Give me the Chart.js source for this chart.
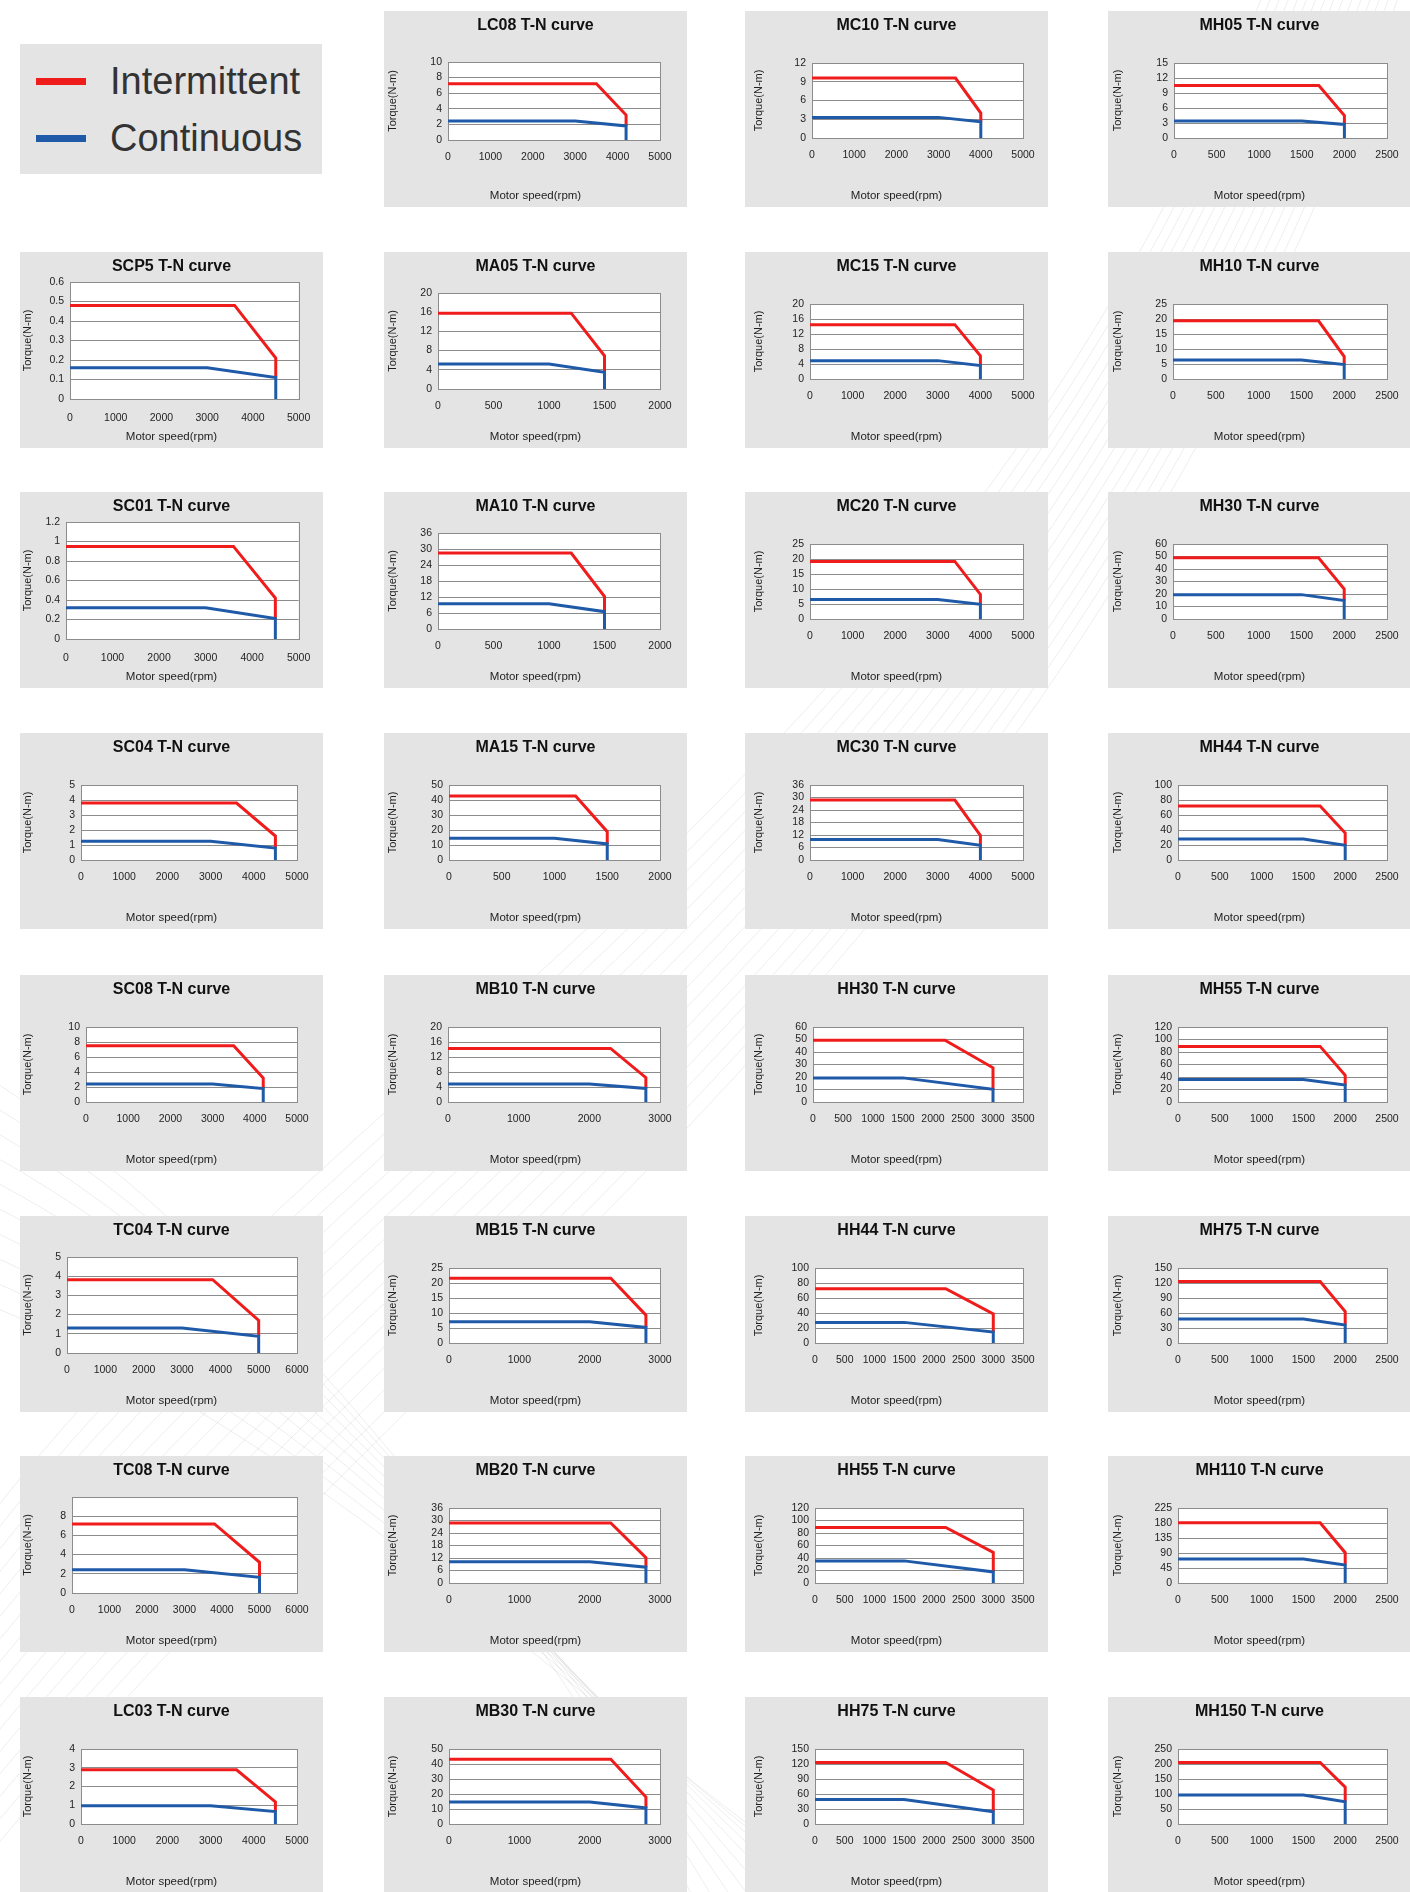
<!DOCTYPE html>
<html>
<head>
<meta charset="utf-8">
<title>Servo motor T-N curves</title>
<script src="https://cdn.jsdelivr.net/npm/chart.js@4.4.1/dist/chart.umd.min.js"></script>
<style>
  html, body { margin: 0; padding: 0; background: #ffffff; width: 1410px; height: 1892px; overflow: hidden;
    font-family: "Liberation Sans", Arial, sans-serif; }
  #swoosh { position: absolute; left: 0; top: 0; }
  .panel { position: absolute; width: 303px; height: 196px; background: #e4e4e4; }
  .panel canvas { display: block; }
  #legend { position: absolute; left: 20px; top: 44px; width: 302px; height: 130px; background: #e4e4e4; }
  #legend .row { position: absolute; left: 0; height: 40px; width: 302px; }
  #legend .swatch { position: absolute; left: 16px; width: 50px; height: 7px; top: 17px; }
  #legend .label { position: absolute; left: 90px; top: 0; line-height: 40px; font-size: 38px; color: #333333; white-space: nowrap; }
</style>
</head>
<body>
<svg id="swoosh" width="1410" height="1892"></svg>
<div id="legend">
  <div class="row" style="top:17px"><div class="swatch" style="background:#f01c1c"></div><div class="label">Intermittent</div></div>
  <div class="row" style="top:74px"><div class="swatch" style="background:#1f5aa8"></div><div class="label">Continuous</div></div>
</div>
<div id="grid"></div>
<script>
// ---- Motor models, in reading order (left to right, top to bottom) ----
const models = ['LC08','MC10','MH05',
  'SCP5','MA05','MC15','MH10',
  'SC01','MA10','MC20','MH30',
  'SC04','MA15','MC30','MH44',
  'SC08','MB10','HH30','MH55',
  'TC04','MB15','HH44','MH75',
  'TC08','MB20','HH55','MH110',
  'LC03','MB30','HH75','MH150'];

// Speed axis (rpm): upper limit and tick step
const speedMax  = [5000,5000,2500, 5000,2000,5000,2500, 5000,2000,5000,2500, 5000,2000,5000,2500,
                   5000,3000,3500,2500, 6000,3000,3500,2500, 6000,3000,3500,2500, 5000,3000,3500,2500];
const speedStep = [1000,1000,500, 1000,500,1000,500, 1000,500,1000,500, 1000,500,1000,500,
                   1000,1000,500,500, 1000,1000,500,500, 1000,1000,500,500, 1000,1000,500,500];

// Torque axis (N-m): upper limit and tick step
const torqueMax  = [10,12,15, 0.6,20,20,25, 1.2,36,25,60, 5,50,36,100, 10,20,60,120,
                    5,25,100,150, 10,36,120,225, 4,50,150,250];
const torqueStep = [2,3,3, 0.1,4,4,5, 0.2,6,5,10, 1,10,6,20, 2,4,10,20,
                    1,5,20,30, 2,6,20,45, 1,10,30,50];
// Models whose top torque tick carries no label
const unlabeledTopTick = ['TC08'];

// Intermittent (peak) torque curve, [rpm, N-m]
const intermittent = [
  [[0,7.2],[3500,7.2],[4200,3.2],[4200,1.8]],
  [[0,9.6],[3400,9.6],[4000,4.0],[4000,2.6]],
  [[0,10.5],[1700,10.5],[2000,4.5],[2000,2.7]],
  [[0,0.48],[3600,0.48],[4500,0.21],[4500,0.11]],
  [[0,15.8],[1200,15.8],[1500,6.9],[1500,3.5]],
  [[0,14.5],[3400,14.5],[4000,6.2],[4000,3.6]],
  [[0,19.4],[1700,19.4],[2000,7.5],[2000,4.8]],
  [[0,0.95],[3600,0.95],[4500,0.42],[4500,0.21]],
  [[0,28.5],[1200,28.5],[1500,12.2],[1500,6.5]],
  [[0,19.2],[3400,19.2],[4000,8.2],[4000,4.9]],
  [[0,49],[1700,49],[2000,24],[2000,14.7]],
  [[0,3.8],[3600,3.8],[4500,1.6],[4500,0.8]],
  [[0,42.6],[1200,42.6],[1500,18.9],[1500,10.7]],
  [[0,28.8],[3400,28.8],[4000,11.8],[4000,7.1]],
  [[0,72],[1700,72],[2000,36],[2000,19.7]],
  [[0,7.5],[3500,7.5],[4200,3.2],[4200,1.8]],
  [[0,14.3],[2300,14.3],[2800,6.5],[2800,3.6]],
  [[0,49.5],[2200,49.5],[3000,27.4],[3000,10.2]],
  [[0,89],[1700,89],[2000,42.6],[2000,27]],
  [[0,3.82],[3800,3.82],[5000,1.7],[5000,0.87]],
  [[0,21.6],[2300,21.6],[2800,9.3],[2800,5.2]],
  [[0,72.5],[2200,72.5],[3000,38.7],[3000,14.5]],
  [[0,123],[1700,123],[2000,63],[2000,36]],
  [[0,7.2],[3800,7.2],[5000,3.2],[5000,1.63]],
  [[0,28.8],[2300,28.8],[2800,12.2],[2800,7.6]],
  [[0,89],[2200,89],[3000,49],[3000,17.7]],
  [[0,181],[1700,181],[2000,91],[2000,54]],
  [[0,2.89],[3600,2.89],[4500,1.18],[4500,0.66]],
  [[0,43.2],[2300,43.2],[2800,18],[2800,10.7]],
  [[0,123],[2200,123],[3000,68],[3000,24.3]],
  [[0,205],[1700,205],[2000,123],[2000,74]]
];

// Continuous (rated) torque curve, [rpm, N-m]
const continuous = [
  [[0,2.45],[3000,2.45],[4200,1.8],[4200,0]],
  [[0,3.3],[3000,3.3],[4000,2.6],[4000,0]],
  [[0,3.4],[1500,3.4],[2000,2.7],[2000,0]],
  [[0,0.16],[3000,0.16],[4500,0.11],[4500,0]],
  [[0,5.2],[1000,5.2],[1500,3.5],[1500,0]],
  [[0,4.9],[3000,4.9],[4000,3.6],[4000,0]],
  [[0,6.3],[1500,6.3],[2000,4.8],[2000,0]],
  [[0,0.32],[3000,0.32],[4500,0.21],[4500,0]],
  [[0,9.5],[1000,9.5],[1500,6.5],[1500,0]],
  [[0,6.5],[3000,6.5],[4000,4.9],[4000,0]],
  [[0,19.5],[1500,19.5],[2000,14.7],[2000,0]],
  [[0,1.25],[3000,1.25],[4500,0.8],[4500,0]],
  [[0,14.5],[1000,14.5],[1500,10.7],[1500,0]],
  [[0,9.8],[3000,9.8],[4000,7.1],[4000,0]],
  [[0,28],[1500,28],[2000,19.7],[2000,0]],
  [[0,2.4],[3000,2.4],[4200,1.8],[4200,0]],
  [[0,4.8],[2000,4.8],[2800,3.6],[2800,0]],
  [[0,19.3],[1500,19.3],[3000,10.2],[3000,0]],
  [[0,36],[1500,36],[2000,27],[2000,0]],
  [[0,1.3],[3000,1.3],[5000,0.87],[5000,0]],
  [[0,7.1],[2000,7.1],[2800,5.2],[2800,0]],
  [[0,27.5],[1500,27.5],[3000,14.5],[3000,0]],
  [[0,48],[1500,48],[2000,36],[2000,0]],
  [[0,2.43],[3000,2.43],[5000,1.63],[5000,0]],
  [[0,10.2],[2000,10.2],[2800,7.6],[2800,0]],
  [[0,35.4],[1500,35.4],[3000,17.7],[3000,0]],
  [[0,72],[1500,72],[2000,54],[2000,0]],
  [[0,0.97],[3000,0.97],[4500,0.66],[4500,0]],
  [[0,14.6],[2000,14.6],[2800,10.7],[2800,0]],
  [[0,49],[1500,49],[3000,24.3],[3000,0]],
  [[0,97],[1500,97],[2000,74],[2000,0]]
];

// ---- Page decoration: a faint fan of sweeping lines behind the panels ----
(function () {
  const svg = document.getElementById('swoosh');
  let d = '';
  for (let k = 0; k < 16; k++) {
    const s = k - 8;
    d += `<path d="M -60 ${1760 + s * 22} C ${380 + s * 10} ${1180 + s * 14}, ${1000 + s * 8} ${900 + s * 10}, ${1345 + s * 9} -30" />`;
  }
  for (let k = 0; k < 10; k++) {
    d += `<path d="M -40 ${1060 + k * 26} C ${260 + k * 10} ${1240 + k * 22}, ${560 + k * 12} ${1640 + k * 18}, ${700 + k * 20} 1910" />`;
  }
  svg.innerHTML = `<g fill="none" stroke="#000" stroke-opacity="0.07" stroke-width="1">${d}</g>`;
})();

// ---- Panel layout ----
const PANEL_W = 303, PANEL_H = 196;
const colLeft = [20, 384, 745, 1108];
const rowTop  = [11, 252, 492, 733, 975, 1216, 1456, 1697];
const yTitleCenter = [8, 9, 14, 10];          // per column, px from panel edge
const colPlotRight = [277, 276, 278, 279];
const plotLeft = [64,67,66, 50,54,65,65, 46,54,65,65, 61,65,65,70, 66,64,68,70,
                  47,65,70,70, 52,65,70,70, 61,65,70,70];
const plotRightOverride = { SCP5: 285, SC01: 280 };
const frames = {
  std:  { top: 52, bottom: 127, tickGap: 10.7 },
  row0: { top: 51, bottom: 129, tickGap: 10.7 },
  mid:  { top: 41, bottom: 137, tickGap: 10.7 },
  tall: { top: 30, bottom: 147, tickGap: 12.7 }
};
const frameOf = { LC08: 'row0', SCP5: 'tall', SC01: 'tall', MA05: 'mid', MA10: 'mid', TC04: 'mid', TC08: 'mid' };

const RED = '#f01c1c', BLUE = '#1f5aa8', GRID = '#8c8c8c', TEXT = '#1e1e1e';
const FONT = '"Liberation Sans", Arial, sans-serif';

// white plot area and a box round it
const plotBox = {
  id: 'plotBox',
  beforeDraw(chart) {
    const a = chart.chartArea, c = chart.ctx;
    c.save(); c.fillStyle = '#ffffff'; c.fillRect(a.left, a.top, a.right - a.left, a.bottom - a.top); c.restore();
  },
  beforeDatasetsDraw(chart) {
    const a = chart.chartArea, c = chart.ctx;
    c.save(); c.strokeStyle = GRID; c.lineWidth = 1;
    c.strokeRect(Math.round(a.left) + 0.5, Math.round(a.top) + 0.5, Math.round(a.right - a.left), Math.round(a.bottom - a.top));
    c.restore();
  }
};

const fmt = v => String(+(+v).toFixed(4));

const grid = document.getElementById('grid');
models.forEach((name, i) => {
  const slot = i + 1, row = Math.floor(slot / 4), col = slot % 4;
  const div = document.createElement('div');
  div.className = 'panel';
  div.style.left = colLeft[col] + 'px';
  div.style.top = rowTop[row] + 'px';
  const cv = document.createElement('canvas');
  cv.width = PANEL_W; cv.height = PANEL_H;
  div.appendChild(cv); grid.appendChild(div);

  const fr = frames[frameOf[name] || 'std'];
  const left = plotLeft[i];
  const right = plotRightOverride[name] || colPlotRight[col];
  const titleLH = 16 * 1.2, subLH = 11.5 * 1.2, subPadBottom = 4.1;
  const hideTop = unlabeledTopTick.includes(name);

  new Chart(cv, {
    type: 'line',
    data: {
      datasets: [
        { label: 'Intermittent', data: intermittent[i].map(p => ({ x: p[0], y: p[1] })),
          borderColor: RED, borderWidth: 3, pointRadius: 0, tension: 0, fill: false, order: 1 },
        { label: 'Continuous', data: continuous[i].map(p => ({ x: p[0], y: p[1] })),
          borderColor: BLUE, borderWidth: 3, pointRadius: 0, tension: 0, fill: false, order: 0 }
      ]
    },
    options: {
      responsive: false, animation: false, devicePixelRatio: 1,
      layout: { padding: 0 },
      events: [],
      plugins: {
        legend: { display: false },
        tooltip: { enabled: false },
        title: { display: true, text: name + ' T-N curve', color: '#111111',
          font: { family: FONT, size: 16, weight: 'bold' },
          padding: { top: 15 - titleLH / 2, bottom: fr.top - (15 - titleLH / 2) - titleLH } },
        subtitle: { display: true, position: 'bottom', text: 'Motor speed(rpm)', color: TEXT,
          font: { family: FONT, size: 11.5 }, padding: { top: 0, bottom: subPadBottom } }
      },
      scales: {
        x: {
          type: 'linear', min: 0, max: speedMax[i],
          grid: { display: false, drawTicks: false },
          border: { display: true, color: GRID },
          ticks: { stepSize: speedStep[i], autoSkip: false, maxTicksLimit: 100, maxRotation: 0, padding: fr.tickGap,
            color: TEXT, font: { family: FONT, size: 10.5 }, callback: v => fmt(v) },
          afterFit(s) { s.height = PANEL_H - fr.bottom - (subLH + subPadBottom); }
        },
        y: {
          type: 'linear', min: 0, max: torqueMax[i],
          grid: { color: GRID, lineWidth: 1, drawTicks: false },
          border: { display: true, color: GRID },
          ticks: { stepSize: torqueStep[i], autoSkip: false, maxTicksLimit: 100, padding: 6, color: TEXT,
            font: { family: FONT, size: 10.5, lineHeight: 1 },
            callback: v => (hideTop && Math.abs(v - torqueMax[i]) < 1e-9) ? '' : fmt(v) },
          title: { display: true, text: 'Torque(N-m)', color: TEXT, font: { family: FONT, size: 11 },
            padding: { top: yTitleCenter[col] - 6.6, bottom: 0 } },
          afterFit(s) { s.width = left; }
        },
        yRight: {
          type: 'linear', position: 'right', display: true,
          grid: { display: false, drawTicks: false }, border: { display: false },
          ticks: { display: false },
          afterFit(s) { s.width = PANEL_W - right; }
        }
      }
    },
    plugins: [plotBox]
  });
});
</script>
</body>
</html>
